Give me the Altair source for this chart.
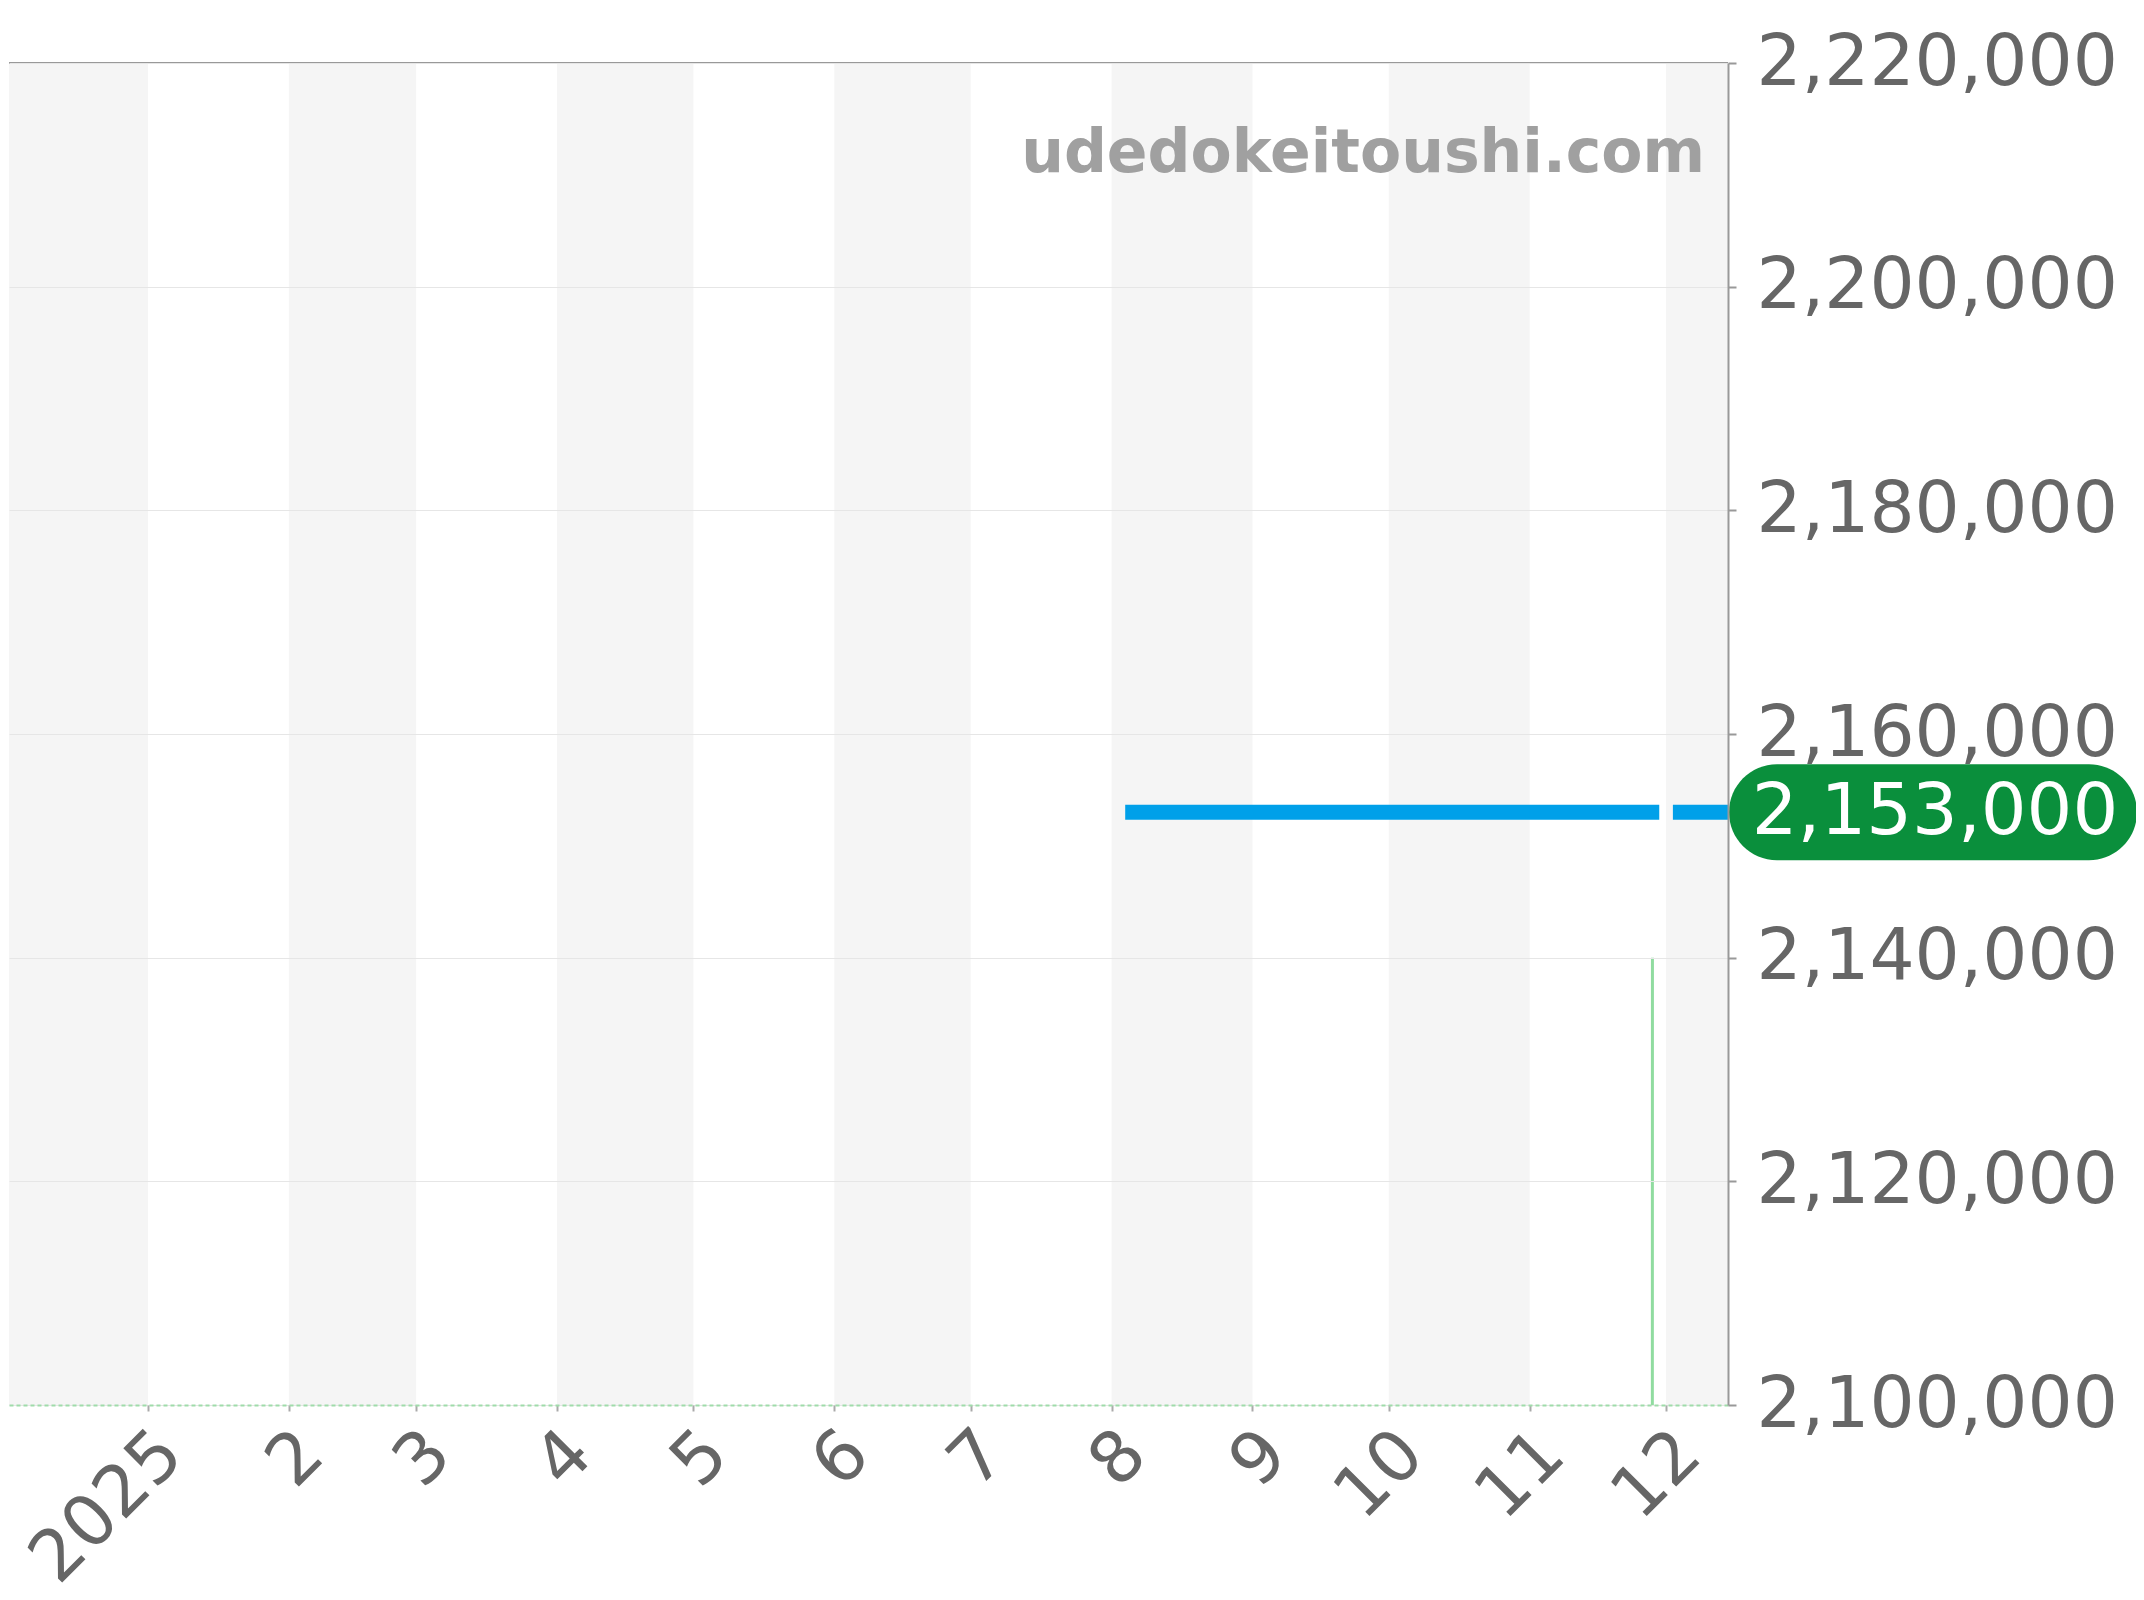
import altair as alt
import pandas as pd

# ---------------- data ----------------
y_ticks = [2100000, 2120000, 2140000, 2160000, 2180000, 2200000, 2220000]
x_domain = ["2024-12-01T10:00:00", "2025-12-14T15:00:00"]
month_ticks = ["2025-01-01T00:00:00", "2025-02-01T00:00:00", "2025-03-01T00:00:00",
               "2025-04-01T00:00:00", "2025-05-01T00:00:00", "2025-06-01T00:00:00",
               "2025-07-01T00:00:00", "2025-08-01T00:00:00", "2025-09-01T00:00:00",
               "2025-10-01T00:00:00", "2025-11-01T00:00:00", "2025-12-01T00:00:00"]
band_starts = ["2024-12-01T00:00:00", "2025-02-01T00:00:00", "2025-04-01T00:00:00",
               "2025-06-01T00:00:00", "2025-08-01T00:00:00", "2025-10-01T00:00:00",
               "2025-12-01T00:00:00"]
band_ends = ["2025-01-01T00:00:00", "2025-03-01T00:00:00", "2025-05-01T00:00:00",
             "2025-07-01T00:00:00", "2025-09-01T00:00:00", "2025-11-01T00:00:00",
             "2026-01-01T00:00:00"]

blue_dates = ["2025-08-04T00:00:00", "2025-11-29T12:00:00",
              "2025-12-02T12:00:00", "2025-12-14T15:00:00"]
blue_values = [2153000, 2153000, 2153000, 2153000]
blue_segments = [1, 1, 2, 2]

green_dates = ["2024-12-01T00:00:00", "2025-11-27T00:00:00", "2025-11-28T00:00:00"]
green_values = [0, 0, 2140000]

current_price = [2153000]
watermark = "udedokeitoushi.com"

# ---------------- helpers ----------------
def dt(s):
    t = pd.Timestamp(s)
    return alt.DateTime(year=t.year, month=t.month, date=t.day, hours=t.hour, minutes=t.minute)

W, H = 1719, 1342
FONT = "DejaVu Sans"

x_scale = alt.Scale(domain=[dt(x_domain[0]), dt(x_domain[1])])
y_scale = alt.Scale(domain=[y_ticks[0], y_ticks[-1]], nice=False, zero=False)

x_axis = alt.Axis(
    values=[dt(m) for m in month_ticks],
    labelExpr="month(datum.value) === 0 ? timeFormat(datum.value, '%Y') : timeFormat(datum.value, '%-m')",
    labelAngle=-45, labelAlign="right", labelBaseline="middle",
    labelFontSize=71, labelColor="#666666", labelFont=FONT,
    labelPadding=32, labelOffset=23, labelFlush=False, labelOverlap=False, labelLimit=0,
    tickSize=6, tickColor="#aaaaaa", tickWidth=2,
    domainColor="#9fdcaa", domainDash=[4, 3], domainWidth=2,
    grid=False, title=None, zindex=1,
)
y_axis = alt.Axis(
    orient="right", values=y_ticks, format=",",
    labelExpr="format(datum.value, ',')",
    labelFontSize=71, labelColor="#666666", labelFont=FONT,
    labelPadding=20, labelAlign="left", labelBaseline="middle",
    labelOverlap=False, labelFlush=False, labelLimit=0,
    tickSize=8, tickColor="#999999", tickWidth=2,
    domainColor="#999999", domainWidth=2,
    grid=True, gridColor="#e6e6e6", gridWidth=1,
    title=None, zindex=1,
)

bands_df = pd.DataFrame({"start": band_starts, "end": band_ends})
blue_df = pd.DataFrame({"date": blue_dates, "value": blue_values, "segment": blue_segments})
green_df = pd.DataFrame({"date": green_dates, "value": green_values})
price_df = pd.DataFrame({"value": current_price})
top_df = pd.DataFrame({"value": [y_ticks[-1]]})

Y = alt.Y("value:Q", scale=y_scale, axis=y_axis, title=None)

bands = alt.Chart(bands_df).mark_rect(color="#f5f5f5", clip=True).encode(
    x=alt.X("start:T", scale=x_scale, axis=x_axis, title=None),
    x2="end:T",
)

green = alt.Chart(green_df).mark_line(color="#90dca0", strokeWidth=3, clip=True).encode(
    x=alt.X("date:T", scale=x_scale, axis=x_axis, title=None),
    y=Y,
)

blue = alt.Chart(blue_df).mark_line(color="#00a0e9", strokeWidth=15, strokeCap="butt", clip=True).encode(
    x=alt.X("date:T", scale=x_scale, axis=x_axis, title=None),
    y=Y,
    detail="segment:N",
)

top_rule = alt.Chart(top_df).mark_rule(color="#999999", strokeWidth=2).encode(
    y=Y,
)

pill_w, pill_h = 408, 96
r = pill_h / pill_w
a = 1 - r
pill_path = (f"M{-a:.4f},{-r:.4f} L{a:.4f},{-r:.4f} A{r:.4f},{r:.4f} 0 0 1 {a:.4f},{r:.4f} "
             f"L{-a:.4f},{r:.4f} A{r:.4f},{r:.4f} 0 0 1 {-a:.4f},{-r:.4f} Z")

pill = alt.Chart(price_df).mark_point(
    shape=pill_path, size=pill_w ** 2, filled=True, color="#0a8f3c", opacity=1, strokeWidth=0
).encode(
    x=alt.value(W + 1 + pill_w / 2),
    y=Y,
)

price_text = alt.Chart(price_df).mark_text(
    color="#ffffff", fontSize=72, font=FONT, align="center", baseline="middle"
).encode(
    x=alt.value(W + 1 + pill_w / 2 + 2),
    y=Y,
    text=alt.Text("value:Q", format=","),
)

wm = alt.Chart(price_df).mark_text(
    text=watermark, fontSize=60, fontWeight="bold", font=FONT, color="#a0a0a0",
    align="right", baseline="alphabetic",
).encode(
    x=alt.value(W - 23),
    y=alt.value(109),
)

chart = alt.layer(bands, green, blue, top_rule, pill, price_text, wm).properties(
    width=W, height=H,
    autosize=alt.AutoSizeParams(type="none"),
    padding={"left": 1, "top": 55, "right": 408, "bottom": 192},
).configure_view(stroke=None)

chart.save("out.html", embed_options={"renderer": "svg", "actions": False})
